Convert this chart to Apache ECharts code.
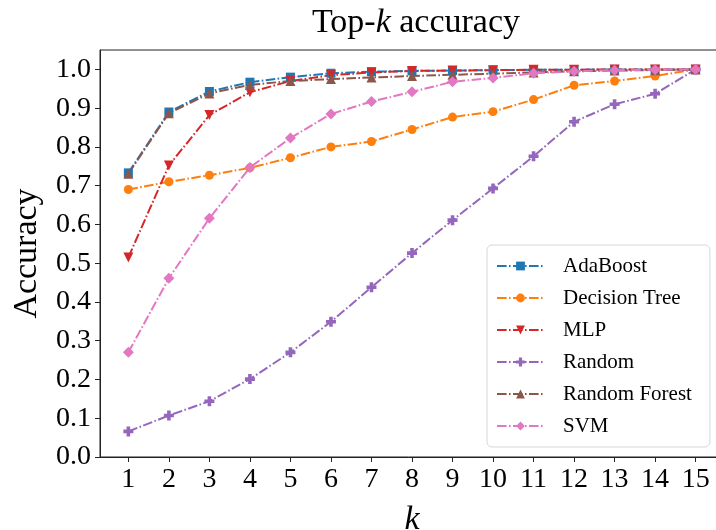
<!DOCTYPE html>
<html>
<head>
<meta charset="utf-8">
<script src="https://cdn.jsdelivr.net/npm/echarts@6/dist/echarts.min.js"></script>
<style>
  html, body { margin: 0; padding: 0; background: #fff; }
  #chart { width: 716px; height: 530px; }
</style>
</head>
<body>
<div id="chart"></div>
<script>
// k values and accuracies
const ks = [1, 2, 3, 4, 5, 6, 7, 8, 9, 10, 11, 12, 13, 14, 15]
const yTicks = [0, 0.1, 0.2, 0.3, 0.4, 0.5, 0.6, 0.7, 0.8, 0.9, 1.0]

const adaBoost = [0.733, 0.890, 0.943, 0.967, 0.980, 0.990, 0.994, 0.996, 0.997, 0.998, 0.999, 0.999, 1.0, 1.0, 1.0]
const decisionTree = [0.690, 0.710, 0.727, 0.746, 0.772, 0.800, 0.814, 0.845, 0.877, 0.891, 0.922, 0.959, 0.970, 0.983, 1.0]
const mlp = [0.515, 0.752, 0.882, 0.941, 0.970, 0.985, 0.992, 0.996, 0.997, 0.998, 0.999, 0.999, 1.0, 1.0, 1.0]
const random = [0.066, 0.107, 0.144, 0.201, 0.270, 0.349, 0.438, 0.526, 0.611, 0.693, 0.776, 0.865, 0.910, 0.937, 1.0]
const randomForest = [0.731, 0.887, 0.938, 0.960, 0.970, 0.975, 0.979, 0.983, 0.986, 0.989, 0.992, 0.995, 0.997, 0.998, 1.0]
const svm = [0.270, 0.461, 0.616, 0.747, 0.823, 0.885, 0.917, 0.942, 0.968, 0.978, 0.990, 0.995, 0.998, 0.999, 1.0]

const serif = 'Liberation Serif'
const dashDot = [9.6, 2.4, 1.6, 2.4]

// marker shapes
const triDown = 'path://M0,0 L10,0 L5,10 Z'
const plusFilled = 'path://M3.2,0 H6.8 V3.2 H10 V6.8 H6.8 V10 H3.2 V6.8 H0 V3.2 H3.2 Z'
const diamond = 'path://M5,0 L10,5 L5,10 L0,5 Z'

function makeSeries(name, values, color, symbol, size) {
    return {
        name: name,
        type: 'line',
        data: ks.map((k, i) => [k, values[i]]),
        symbol: symbol,
        symbolSize: size,
        showAllSymbol: true,
        lineStyle: { color: color, width: 2, type: dashDot },
        itemStyle: { color: color },
        emphasis: { disabled: true },
        animation: false
    }
}

let myChart = echarts.init(document.getElementById('chart'))
const options = {
    animation: false,
    title: {
        text: '{a|Top-}{i|k}{a| accuracy}',
        left: 411,
        textAlign: 'center',
        top: 1,
        textStyle: {
            fontWeight: 'normal',
            rich: {
                a: { fontFamily: serif, fontSize: 34, fontWeight: 'normal', color: '#000' },
                i: { fontFamily: serif, fontSize: 34, fontWeight: 'normal', fontStyle: 'italic', color: '#000' }
            }
        }
    },
    grid: {
        left: 100,
        right: -8,
        top: 50,
        bottom: 73,
        outerBoundsMode: 'none',
        containLabel: false,
        show: true,
        borderColor: '#222',
        borderWidth: 1
    },
    legend: {
        orient: 'vertical',
        left: 487,
        top: 245,
        padding: [10, 18, 10, 9],
        itemWidth: 47,
        itemHeight: 11,
        itemGap: 10,
        backgroundColor: 'rgba(255,255,255,0.8)',
        borderColor: '#d6d6d6',
        borderWidth: 1,
        borderRadius: 5,
        textStyle: {
            fontFamily: serif,
            fontSize: 21,
            lineHeight: 22,
            color: '#000',
            padding: [0, 0, 0, 14]
        },
        data: ['AdaBoost', 'Decision Tree', 'MLP', 'Random', 'Random Forest', 'SVM']
    },
    xAxis: {
        type: 'value',
        min: 0.3,
        max: 15.7,
        name: 'k',
        nameLocation: 'middle',
        nameGap: 46,
        nameTextStyle: { fontFamily: serif, fontSize: 34, fontStyle: 'italic', color: '#000' },
        splitLine: { show: false },
        axisLine: { show: true, lineStyle: { color: '#222', width: 1 } },
        axisTick: { show: true, inside: false, length: 5, customValues: ks, lineStyle: { color: '#222' } },
        axisLabel: { customValues: ks, margin: 9, fontFamily: serif, fontSize: 28, color: '#000' }
    },
    yAxis: {
        type: 'value',
        min: 0,
        max: 1.05,
        name: 'Accuracy',
        nameLocation: 'middle',
        nameRotate: 90,
        nameGap: 56,
        nameTextStyle: { fontFamily: serif, fontSize: 34, color: '#000' },
        splitLine: { show: false },
        axisLine: { show: true, lineStyle: { color: '#222', width: 1 } },
        axisTick: { show: true, inside: false, length: 5, customValues: yTicks, lineStyle: { color: '#222' } },
        axisLabel: {
            customValues: yTicks,
            margin: 9,
            fontFamily: serif,
            fontSize: 28,
            color: '#000',
            formatter: v => v.toFixed(1)
        }
    },
    series: [
        makeSeries('AdaBoost', adaBoost, '#1f77b4', 'rect', 9),
        makeSeries('Decision Tree', decisionTree, '#ff7f0e', 'circle', 9),
        makeSeries('MLP', mlp, '#d62728', triDown, 10),
        makeSeries('Random', random, '#9467bd', plusFilled, 10),
        makeSeries('Random Forest', randomForest, '#8c564b', 'triangle', 10),
        makeSeries('SVM', svm, '#e377c2', diamond, 11)
    ]
}
myChart.setOption(options)
</script>
</body>
</html>
